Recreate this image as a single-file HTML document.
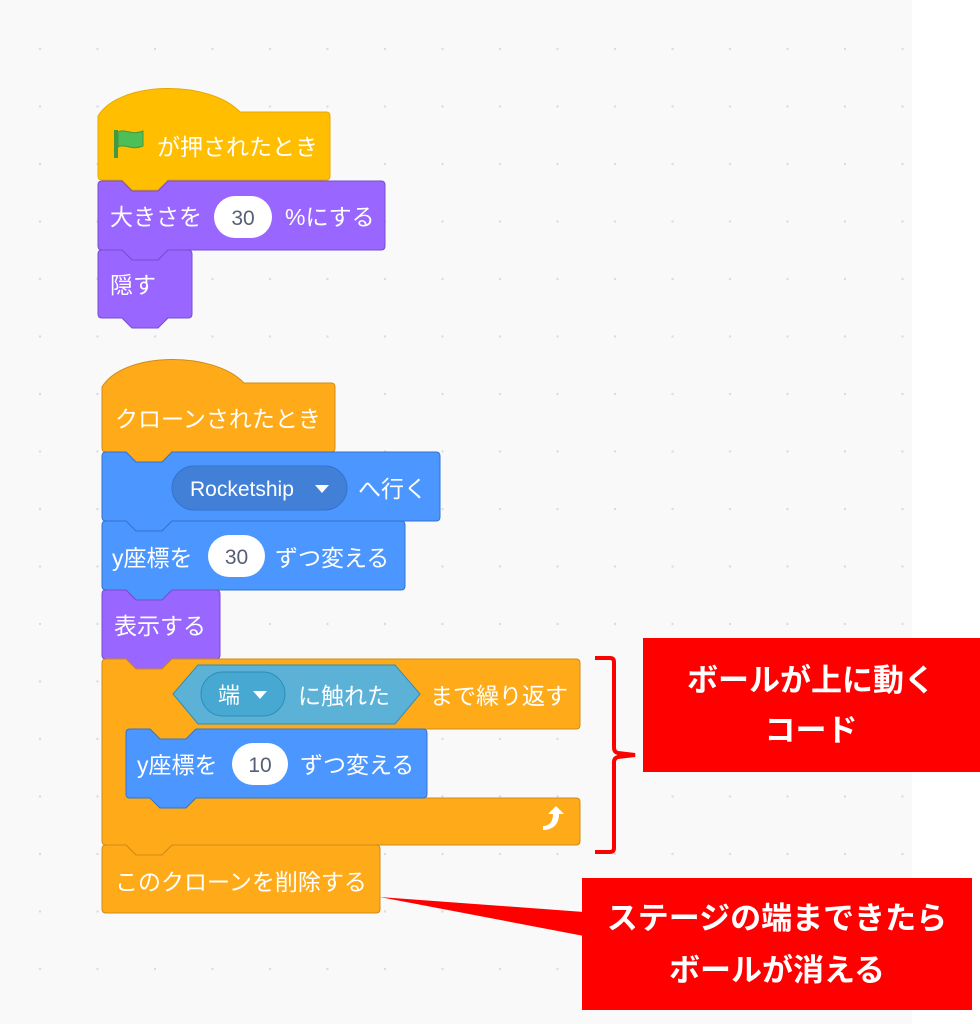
<!DOCTYPE html>
<html><head><meta charset="utf-8"><style>
html,body{margin:0;padding:0;background:#fff}
svg{display:block}
text{font-family:"Liberation Sans","Noto Sans CJK JP",sans-serif}
</style></head><body>
<svg width="980" height="1024" viewBox="0 0 980 1024" xmlns="http://www.w3.org/2000/svg">
<defs>
<pattern id="dots" x="11" y="20" width="57.5" height="57.5" patternUnits="userSpaceOnUse">
<circle cx="29" cy="29" r="1.2" fill="#dcdcdc"/>
</pattern>
</defs>
<rect x="0" y="0" width="912" height="1024" fill="#f9f9f9"/>
<rect x="0" y="0" width="912" height="1024" fill="url(#dots)"/>

<g font-size="23" fill="#fff">
<!-- Hat 1 -->
<path d="M98,116 C120,80 210,80 240,112 H326 Q330,112 330,116 V176 Q330,180 326,180 H168 L158,190 H132 L122,180 H102 Q98,180 98,176 Z" fill="#ffbf00" stroke="#e6a800"/>
<g transform="translate(114,130)">
<rect x="0" y="0" width="4" height="28" fill="#45993d"/>
<path d="M4,2 C11,-2 17,6 29,1 V16 C17,21 11,13 4,17 Z" fill="#4cbf56" stroke="#45993d" stroke-width="1"/>
</g>
<text x="157" y="155">が押されたとき</text>

<!-- Purple 1 -->
<path d="M102,181 H122 L132,191 H158 L168,181 H381 Q385,181 385,185 V246 Q385,250 381,250 H168 L158,260 H132 L122,250 H102 Q98,250 98,246 V185 Q98,181 102,181 Z" fill="#9966ff" stroke="#774dcb"/>
<text x="110" y="225">大きさを</text>
<rect x="214" y="196" width="58" height="42" rx="21" fill="#fff"/>
<text x="243" y="225" fill="#575e75" text-anchor="middle" font-size="21">30</text>
<text x="285" y="225">%にする</text>

<!-- Purple 2 -->
<path d="M102,250 H122 L132,260 H158 L168,250 H188 Q192,250 192,254 V314 Q192,318 188,318 H168 L158,328 H132 L122,318 H102 Q98,318 98,314 V254 Q98,250 102,250 Z" fill="#9966ff" stroke="#774dcb"/>
<text x="110" y="293">隠す</text>

<!-- Hat 2 -->
<path d="M102,387 C124,351 214,351 244,383 H331 Q335,383 335,387 V448 Q335,452 331,452 H172 L162,462 H136 L126,452 H106 Q102,452 102,448 Z" fill="#ffab19" stroke="#cf8b17"/>
<text x="115" y="427">クローンされたとき</text>

<!-- Blue 1 -->
<path d="M106,452 H126 L136,462 H162 L172,452 H436 Q440,452 440,456 V517 Q440,521 436,521 H172 L162,531 H136 L126,521 H106 Q102,521 102,517 V456 Q102,452 106,452 Z" fill="#4c97ff" stroke="#3373cc"/>
<rect x="172" y="466" width="175" height="44" rx="22" fill="#4280d7" stroke="#3373cc"/>
<text x="190" y="496" font-size="21">Rocketship</text>
<path d="M315,485 L329,485 L322,493 Z" fill="#fff"/>
<text x="358" y="497">へ行く</text>

<!-- Blue 2 -->
<path d="M106,521 H126 L136,531 H162 L172,521 H401 Q405,521 405,525 V586 Q405,590 401,590 H172 L162,600 H136 L126,590 H106 Q102,590 102,586 V525 Q102,521 106,521 Z" fill="#4c97ff" stroke="#3373cc"/>
<text x="112" y="566">y座標を</text>
<rect x="208" y="535" width="57" height="42" rx="21" fill="#fff"/>
<text x="236.5" y="564" fill="#575e75" text-anchor="middle" font-size="21">30</text>
<text x="275" y="566">ずつ変える</text>

<!-- Purple 3 -->
<path d="M106,590 H126 L136,600 H162 L172,590 H216 Q220,590 220,594 V655 Q220,659 216,659 H172 L162,669 H136 L126,659 H106 Q102,659 102,655 V594 Q102,590 106,590 Z" fill="#9966ff" stroke="#774dcb"/>
<text x="114" y="634">表示する</text>

<!-- C block -->
<path d="M106,659 H126 L136,669 H162 L172,659 H576 Q580,659 580,663 V725 Q580,729 576,729 H196 L186,739 H160 L150,729 H130 Q126,729 126,733 V794 Q126,798 130,798 H576 Q580,798 580,802 V841 Q580,845 576,845 H172 L162,855 H136 L126,845 H106 Q102,845 102,841 V663 Q102,659 106,659 Z" fill="#ffab19" stroke="#cf8b17"/>
<path d="M173,694 L198,665 H395 L420,694 L395,724 H198 Z" fill="#5cb1d6" stroke="#2e8eb8"/>
<rect x="201" y="672" width="84" height="44" rx="22" fill="#47a8d1" stroke="#2e8eb8"/>
<text x="218" y="703" font-size="22">端</text>
<path d="M253,691 L267,691 L260,699 Z" fill="#fff"/>
<text x="298" y="704">に触れた</text>
<text x="430" y="704">まで繰り返す</text>
<path d="M543,830 C553,830 559,824 559,814 L564,814 L556,806 L548,814 L553,814 C553,822 549,826 543,826 Z" fill="#fff"/>

<!-- Inner blue -->
<path d="M130,729 H150 L160,739 H186 L196,729 H423 Q427,729 427,733 V794 Q427,798 423,798 H196 L186,808 H160 L150,798 H130 Q126,798 126,794 V733 Q126,729 130,729 Z" fill="#4c97ff" stroke="#3373cc"/>
<text x="137" y="773">y座標を</text>
<rect x="232" y="743" width="56" height="42" rx="21" fill="#fff"/>
<text x="260" y="772" fill="#575e75" text-anchor="middle" font-size="21">10</text>
<text x="300" y="773">ずつ変える</text>

<!-- Last block -->
<path d="M106,845 H126 L136,855 H162 L172,845 H376 Q380,845 380,849 V909 Q380,913 376,913 H106 Q102,913 102,909 V849 Q102,845 106,845 Z" fill="#ffab19" stroke="#cf8b17"/>
<text x="115" y="890">このクローンを削除する</text>
</g>

<!-- Annotations -->
<path d="M595,658 H610 Q614,658 614,662 V748 Q614,752 618,753 L635,755 L618,757 Q614,758 614,762 V848 Q614,852 610,852 H595" fill="none" stroke="#ff0000" stroke-width="4"/>
<rect x="643" y="638" width="337" height="134" fill="#ff0000"/>
<text x="811" y="691" fill="#fff" font-size="31" font-weight="bold" text-anchor="middle">ボールが上に動く</text>
<text x="811" y="741" fill="#fff" font-size="31" font-weight="bold" text-anchor="middle">コード</text>

<polygon points="380,897 584,912 584,936" fill="#ff0000"/>
<rect x="582" y="878" width="390" height="132" fill="#ff0000"/>
<text x="777" y="929" fill="#fff" font-size="31" font-weight="bold" text-anchor="middle">ステージの端まできたら</text>
<text x="777" y="981" fill="#fff" font-size="31" font-weight="bold" text-anchor="middle">ボールが消える</text>
</svg>
</body></html>
